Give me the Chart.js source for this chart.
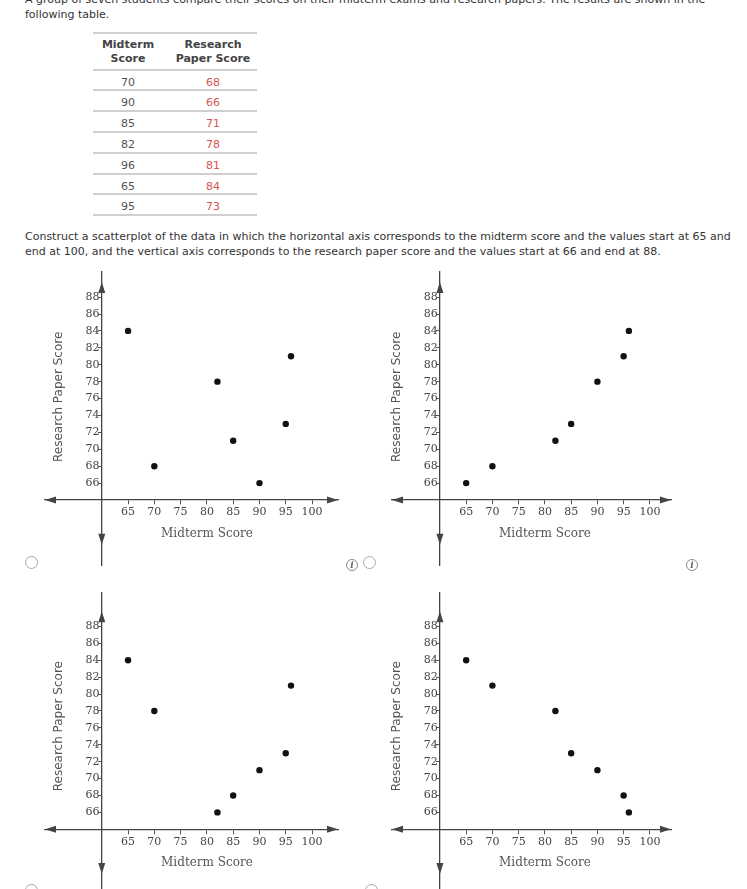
<!DOCTYPE html>
<html>
<head>
<meta charset="utf-8">
<script src="https://cdn.jsdelivr.net/npm/chart.js@4.4.0/dist/chart.umd.min.js"></script>
<style>
html, body { margin: 0; padding: 0; background: #fff; }
body {
    width: 747px; height: 889px; overflow: hidden; position: relative;
    font-family: "DejaVu Sans", Verdana, sans-serif; color: #333;
}
.para { position: absolute; left: 25px; font-size: 11px; line-height: 15px; white-space: nowrap; color: #333; }
.cell { position: absolute; text-align: center; font-size: 11px; line-height: 13px; }
.head { font-weight: bold; color: #444; line-height: 14.3px; }
.rule { position: absolute; left: 93px; width: 164px; height: 2px; background: #cfcfcf; }
.plot { position: absolute; }
.radio { position: absolute; width: 11px; height: 11px; border: 1.5px solid #a8a8a8; border-radius: 50%; }
.info {
    position: absolute; width: 10px; height: 10px; border: 1.5px solid #888; border-radius: 50%;
    font: italic bold 9px "DejaVu Serif", serif; color: #666; text-align: center; line-height: 10px;
}
</style>
</head>
<body>

<div class="para" style="top:-8px;">A group of seven students compare their scores on their midterm exams and research papers. The results are shown in the<br>following table.</div>

<div id="table"></div>

<div class="para" style="top:229px;">Construct a scatterplot of the data in which the horizontal axis corresponds to the midterm score and the values start at 65 and<br>end at 100, and the vertical axis corresponds to the research paper score and the values start at 66 and end at 88.</div>

<canvas id="plotA" class="plot" width="301" height="317" style="left:41px; top:260px;"></canvas>
<canvas id="plotB" class="plot" width="287" height="317" style="left:388px; top:260px;"></canvas>
<canvas id="plotC" class="plot" width="301" height="320" style="left:41px; top:581px;"></canvas>
<canvas id="plotD" class="plot" width="287" height="320" style="left:388px; top:581px;"></canvas>

<div class="radio" style="left:25px; top:556px;"></div>
<div class="info" style="left:346px; top:559px;">i</div>
<div class="radio" style="left:363px; top:556px;"></div>
<div class="info" style="left:686px; top:559px;">i</div>
<div class="radio" style="left:25px; top:884px;"></div>
<div class="radio" style="left:365px; top:884px;"></div>

<script>
// Table data
const midtermScores = [70, 90, 85, 82, 96, 65, 95];
const paperScores = [68, 66, 71, 78, 81, 84, 73];

// Answer choices (top left is the table itself)
const optionBMidterm = [65, 70, 82, 85, 90, 95, 96];
const optionBPaper = [66, 68, 71, 73, 78, 81, 84];
const optionCMidterm = [65, 70, 82, 85, 90, 95, 96];
const optionCPaper = [84, 78, 66, 68, 71, 73, 81];
const optionDMidterm = [65, 70, 82, 85, 90, 95, 96];
const optionDPaper = [84, 81, 78, 73, 71, 68, 66];

// Axis ticks
const xTickValues = [65, 70, 75, 80, 85, 90, 95, 100];
const yTickValues = [66, 68, 70, 72, 74, 76, 78, 80, 82, 84, 86, 88];

// Build the score table
function buildTable() {
    const box = document.getElementById('table');
    let html = '';
    html += '<div class="rule" style="top:32px;"></div>';
    html += '<div class="cell head" style="left:93px; width:70px; top:38px;">Midterm<br>Score</div>';
    html += '<div class="cell head" style="left:163px; width:100px; top:38px;">Research<br>Paper Score</div>';
    const firstLine = 68.5;
    const rowH = 20.8;
    html += `<div class="rule" style="top:${firstLine}px;"></div>`;
    midtermScores.forEach((m, i) => {
        const top = firstLine + i * rowH;
        html += `<div class="cell" style="left:93px; width:70px; top:${top + 7}px; color:#555;">${m}</div>`;
        html += `<div class="cell" style="left:163px; width:100px; top:${top + 7}px; color:#d9534f;">${paperScores[i]}</div>`;
        html += `<div class="rule" style="top:${top + rowH}px;"></div>`;
    });
    box.innerHTML = html;
}

function drawArrow(ctx, x, y, dir) {
    const len = 11, half = 3.5;
    ctx.beginPath();
    ctx.moveTo(x, y);
    if (dir === 'left') { ctx.lineTo(x + len, y - half); ctx.lineTo(x + len, y + half); }
    if (dir === 'right') { ctx.lineTo(x - len, y - half); ctx.lineTo(x - len, y + half); }
    if (dir === 'up') { ctx.lineTo(x - half, y + len); ctx.lineTo(x + half, y + len); }
    if (dir === 'down') { ctx.lineTo(x - half, y - len); ctx.lineTo(x + half, y - len); }
    ctx.closePath();
    ctx.fill();
}

// Arrow heads and axis titles
const axisExtras = {
    id: 'axisExtras',
    afterDraw(chart) {
        const { ctx, chartArea, scales: { x, y } } = chart;
        const ox = x.getPixelForValue(60);
        const oy = y.getPixelForValue(64);
        ctx.save();
        ctx.fillStyle = '#444';
        drawArrow(ctx, chartArea.left, oy, 'left');
        drawArrow(ctx, chartArea.right, oy, 'right');
        drawArrow(ctx, ox, y.getPixelForValue(89.8), 'up');
        drawArrow(ctx, ox, y.getPixelForValue(58.7), 'down');

        ctx.fillStyle = '#555';
        ctx.textAlign = 'center';
        ctx.textBaseline = 'middle';
        ctx.font = '12px "DejaVu Serif"';
        ctx.fillText('Midterm Score', x.getPixelForValue(80), oy + 34);
        ctx.translate(ox - 43, y.getPixelForValue(76.2));
        ctx.rotate(-Math.PI / 2);
        ctx.font = '12px "DejaVu Sans"';
        ctx.fillText('Research Paper Score', 0, 0);
        ctx.restore();
    }
};

function makeScatter(id, xs, ys, xRange, yRange) {
    const points = xs.map((v, i) => ({ x: v, y: ys[i] }));
    const tickFont = { family: 'DejaVu Serif', size: 11 };
    return new Chart(document.getElementById(id), {
        type: 'scatter',
        data: {
            datasets: [{
                data: points,
                pointRadius: 3.2,
                pointBackgroundColor: '#111',
                pointBorderColor: '#111',
                pointBorderWidth: 0
            }]
        },
        options: {
            responsive: false,
            animation: false,
            layout: { padding: { top: 12, bottom: 12, left: 0, right: 0 } },
            plugins: { legend: { display: false }, tooltip: { enabled: false } },
            scales: {
                x: {
                    type: 'linear',
                    min: xRange[0],
                    max: xRange[1],
                    position: { y: 64 },
                    afterBuildTicks: axis => { axis.ticks = xTickValues.map(v => ({ value: v })); },
                    grid: { drawOnChartArea: false, tickLength: 4, color: '#555' },
                    border: { color: '#444', width: 1.3 },
                    ticks: { font: tickFont, color: '#444', padding: 2, autoSkip: false, maxRotation: 0 }
                },
                y: {
                    type: 'linear',
                    min: yRange[0],
                    max: yRange[1],
                    position: { x: 60 },
                    afterBuildTicks: axis => { axis.ticks = yTickValues.map(v => ({ value: v })); },
                    grid: { drawOnChartArea: false, tickLength: 3, color: '#555' },
                    border: { color: '#444', width: 1.3 },
                    // labels of a value-positioned y axis are right-aligned on the axis line,
                    // a thin trailing space keeps them clear of it
                    ticks: { font: tickFont, color: '#444', autoSkip: false, callback: v => v + '\u2009' }
                }
            }
        },
        plugins: [axisExtras]
    });
}

buildTable();
const leftRange = [49.2, 104.94];
const rightRange = [50.87, 104.02];
const topRange = [56.31, 90.97];
const bottomRange = [56.94, 91.95];
makeScatter('plotA', midtermScores, paperScores, leftRange, topRange);
makeScatter('plotB', optionBMidterm, optionBPaper, rightRange, topRange);
makeScatter('plotC', optionCMidterm, optionCPaper, leftRange, bottomRange);
makeScatter('plotD', optionDMidterm, optionDPaper, rightRange, bottomRange);
</script>
</body>
</html>
